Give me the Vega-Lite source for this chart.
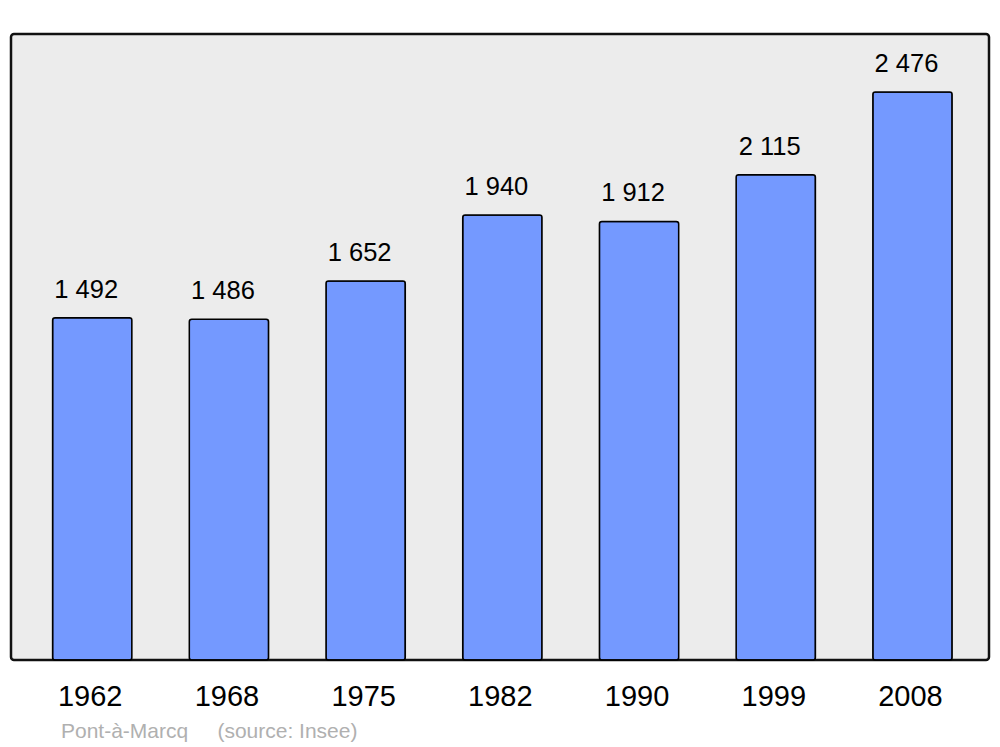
{
  "$schema": "https://vega.github.io/schema/vega-lite/v6.json",
  "width": 978,
  "height": 626,
  "autosize": {"type": "none"},
  "padding": {"left": 11, "top": 34, "right": 11, "bottom": 87},
  "background": "white",
  "config": {
    "view": {"fill": "#ececec", "stroke": "#111111", "strokeWidth": 2.5, "cornerRadius": 3},
    "font": "Liberation Sans",
    "locale": {"number": {"decimal": ",", "thousands": " ", "grouping": [3], "currency": ["", " €"]}}
  },
  "title": {
    "text": "Pont-à-Marcq\u00a0\u00a0\u00a0\u00a0\u00a0(source: Insee)",
    "orient": "bottom",
    "anchor": "start",
    "frame": "group",
    "dx": 50,
    "offset": 10,
    "font": "Liberation Sans",
    "fontSize": 21,
    "fontWeight": "normal",
    "color": "#b0b0b0"
  },
  "data": {
    "values": [
      {"year": "1962", "pop": 1492},
      {"year": "1968", "pop": 1486},
      {"year": "1975", "pop": 1652},
      {"year": "1982", "pop": 1940},
      {"year": "1990", "pop": 1912},
      {"year": "1999", "pop": 2115},
      {"year": "2008", "pop": 2476}
    ]
  },
  "encoding": {
    "x": {
      "field": "year",
      "type": "ordinal",
      "scale": {"paddingInner": 0.42, "paddingOuter": 0.287, "align": 0.53},
      "axis": {
        "title": null,
        "labelAngle": 0,
        "labelFontSize": 29,
        "labelFont": "Liberation Sans",
        "labelColor": "black",
        "labelBaseline": "alphabetic",
        "labelPadding": 45,
        "labelOffset": -2,
        "ticks": false,
        "tickSize": 0,
        "domain": false,
        "grid": false
      }
    },
    "y": {
      "field": "pop",
      "type": "quantitative",
      "scale": {"domain": [0, 2729], "nice": false, "zero": true},
      "axis": null
    }
  },
  "layer": [
    {
      "mark": {"type": "bar", "fill": "#7499ff", "stroke": "black", "strokeWidth": 1.5, "cornerRadius": 2.5}
    },
    {
      "mark": {"type": "text", "fontSize": 25.5, "font": "Liberation Sans", "color": "black", "baseline": "alphabetic", "dy": -20, "dx": -6},
      "encoding": {
        "text": {"field": "pop", "type": "quantitative", "format": ",d"}
      }
    }
  ]
}
